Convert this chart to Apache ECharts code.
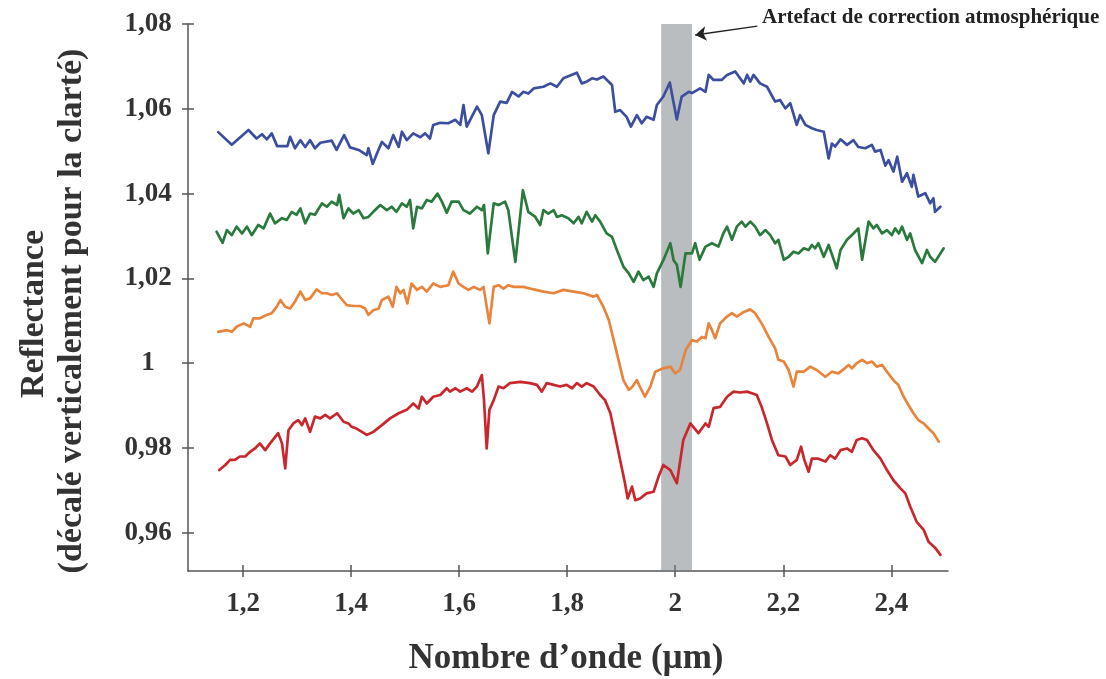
<!DOCTYPE html>
<html>
<head>
<meta charset="utf-8">
<script src="https://cdn.jsdelivr.net/npm/echarts@6/dist/echarts.min.js"></script>
<style>
html,body{margin:0;padding:0;background:#fff;}
#chart{width:1106px;height:679px;}
</style>
</head>
<body>
<div id="chart"></div>
<script>
// ---- Data ----
const xTicks = [1.2, 1.4, 1.6, 1.8, 2.0, 2.2, 2.4];
const yTicks = [0.96, 0.98, 1.00, 1.02, 1.04, 1.06, 1.08];

const blueWl = [1.154,1.179,1.21,1.225,1.235,1.244,1.253,1.263,1.282,1.287,1.296,1.306,1.315,1.324,1.333,1.343,1.364,1.373,1.387,1.398,1.414,1.429,1.432,1.44,1.448,1.457,1.469,1.478,1.488,1.494,1.503,1.515,1.528,1.537,1.546,1.552,1.565,1.58,1.593,1.602,1.608,1.614,1.633,1.642,1.654,1.664,1.676,1.688,1.698,1.71,1.719,1.728,1.738,1.756,1.769,1.781,1.793,1.818,1.827,1.836,1.846,1.855,1.867,1.883,1.889,1.898,1.91,1.918,1.929,1.938,1.947,1.96,1.966,1.978,1.99,1.996,2.003,2.012,2.025,2.031,2.046,2.056,2.062,2.071,2.086,2.096,2.111,2.127,2.133,2.139,2.145,2.157,2.17,2.185,2.194,2.204,2.213,2.225,2.231,2.241,2.253,2.262,2.275,2.284,2.29,2.296,2.306,2.318,2.33,2.339,2.352,2.364,2.37,2.38,2.389,2.395,2.404,2.411,2.42,2.429,2.438,2.441,2.45,2.463,2.472,2.478,2.481,2.491];
const blueR = [1.0545,1.0515,1.055,1.053,1.054,1.0528,1.0542,1.0512,1.0512,1.0534,1.0507,1.0526,1.051,1.0526,1.0507,1.052,1.0525,1.0503,1.0538,1.0509,1.0503,1.0491,1.0507,1.047,1.0495,1.0522,1.0507,1.0538,1.051,1.0546,1.0526,1.0542,1.0533,1.0542,1.053,1.0562,1.0567,1.0566,1.0574,1.0562,1.0609,1.0558,1.0605,1.0585,1.0495,1.0585,1.0617,1.0614,1.064,1.0629,1.064,1.0636,1.0648,1.0652,1.066,1.0652,1.0672,1.0685,1.066,1.0664,1.0672,1.0669,1.0676,1.0656,1.0593,1.0597,1.0581,1.0558,1.0585,1.0566,1.0581,1.0574,1.0609,1.0629,1.0662,1.0621,1.0575,1.0629,1.064,1.0637,1.0648,1.064,1.068,1.0668,1.0668,1.068,1.0688,1.066,1.068,1.0664,1.068,1.066,1.0652,1.0617,1.0621,1.0601,1.0613,1.0562,1.0585,1.0562,1.0554,1.055,1.0546,1.0483,1.0518,1.0511,1.0528,1.0515,1.0526,1.051,1.0507,1.0515,1.0499,1.0503,1.0466,1.0479,1.0452,1.0487,1.0428,1.0448,1.0416,1.0444,1.0393,1.0401,1.0377,1.0389,1.0357,1.0369];

const greenWl = [1.151,1.162,1.17,1.179,1.188,1.198,1.207,1.216,1.228,1.238,1.25,1.259,1.272,1.281,1.29,1.299,1.306,1.315,1.324,1.333,1.346,1.355,1.364,1.374,1.378,1.386,1.395,1.404,1.414,1.423,1.432,1.441,1.454,1.466,1.475,1.484,1.494,1.503,1.509,1.515,1.522,1.531,1.54,1.549,1.56,1.568,1.577,1.586,1.599,1.608,1.62,1.633,1.642,1.646,1.653,1.664,1.673,1.685,1.691,1.704,1.718,1.728,1.741,1.75,1.756,1.765,1.775,1.781,1.79,1.802,1.812,1.821,1.827,1.836,1.846,1.852,1.861,1.873,1.883,1.892,1.904,1.914,1.923,1.932,1.941,1.951,1.96,1.966,1.978,1.991,1.997,2.003,2.01,2.019,2.031,2.037,2.045,2.056,2.068,2.08,2.089,2.096,2.105,2.114,2.123,2.13,2.139,2.148,2.157,2.167,2.176,2.185,2.191,2.201,2.21,2.219,2.228,2.238,2.247,2.253,2.259,2.265,2.275,2.284,2.299,2.306,2.318,2.33,2.339,2.346,2.358,2.367,2.373,2.383,2.392,2.401,2.407,2.414,2.42,2.429,2.435,2.444,2.457,2.466,2.472,2.481,2.497];
const greenR = [1.031,1.0284,1.0314,1.0302,1.0322,1.0306,1.0322,1.0302,1.0326,1.0318,1.0353,1.033,1.0342,1.0338,1.0357,1.035,1.0365,1.033,1.0353,1.035,1.0377,1.0369,1.0381,1.0373,1.0397,1.0342,1.0365,1.0353,1.0361,1.0342,1.0345,1.0357,1.0373,1.0361,1.0369,1.0357,1.0377,1.0369,1.0385,1.0318,1.0369,1.0365,1.0385,1.0381,1.04,1.0381,1.0355,1.0381,1.0381,1.0361,1.0353,1.0369,1.0361,1.0373,1.0259,1.0377,1.0373,1.0381,1.0361,1.0239,1.0408,1.0357,1.0345,1.0326,1.0361,1.0353,1.0361,1.0345,1.0349,1.0342,1.033,1.0345,1.033,1.0357,1.0334,1.0349,1.0334,1.0306,1.0298,1.0267,1.0228,1.0212,1.0192,1.0216,1.0196,1.0204,1.018,1.0212,1.0243,1.0283,1.0243,1.0232,1.018,1.0259,1.0259,1.0283,1.0244,1.0275,1.0283,1.0275,1.0306,1.0322,1.0291,1.0322,1.0334,1.0322,1.0334,1.0322,1.0302,1.0314,1.0302,1.0283,1.0291,1.0244,1.0251,1.0263,1.0259,1.0271,1.0267,1.0279,1.0271,1.0283,1.0251,1.0279,1.0224,1.0267,1.0291,1.0306,1.0318,1.0244,1.0334,1.0318,1.0326,1.0306,1.0314,1.0302,1.0318,1.0306,1.0322,1.0291,1.0306,1.0267,1.0236,1.0267,1.0251,1.0239,1.0271];

const orangeWl = [1.154,1.17,1.179,1.188,1.201,1.213,1.219,1.231,1.244,1.253,1.262,1.269,1.278,1.287,1.296,1.306,1.315,1.324,1.336,1.346,1.355,1.364,1.374,1.38,1.392,1.404,1.417,1.426,1.432,1.441,1.451,1.457,1.469,1.477,1.484,1.491,1.497,1.504,1.512,1.522,1.531,1.54,1.552,1.565,1.58,1.589,1.599,1.608,1.617,1.627,1.639,1.645,1.656,1.664,1.673,1.682,1.691,1.701,1.719,1.738,1.756,1.775,1.793,1.812,1.83,1.849,1.855,1.867,1.877,1.886,1.895,1.904,1.914,1.921,1.929,1.936,1.944,1.954,1.963,1.978,1.991,2.0,2.009,2.019,2.031,2.04,2.049,2.056,2.062,2.068,2.074,2.083,2.096,2.105,2.114,2.127,2.139,2.148,2.16,2.173,2.185,2.191,2.201,2.21,2.219,2.225,2.238,2.25,2.262,2.278,2.29,2.302,2.314,2.321,2.327,2.336,2.346,2.355,2.364,2.373,2.383,2.392,2.404,2.413,2.423,2.432,2.441,2.45,2.46,2.469,2.478,2.488];
const orangeR = [1.0074,1.0078,1.0074,1.0086,1.0094,1.0086,1.0106,1.0106,1.0114,1.0118,1.0133,1.0149,1.0133,1.0129,1.0145,1.0169,1.0149,1.0153,1.0174,1.0165,1.0165,1.0161,1.0165,1.0155,1.0137,1.0135,1.0135,1.0129,1.0114,1.0125,1.0129,1.0149,1.0157,1.0133,1.018,1.0165,1.0173,1.0141,1.0188,1.0173,1.018,1.0169,1.0188,1.018,1.0184,1.0216,1.0188,1.018,1.0173,1.018,1.0173,1.018,1.0094,1.018,1.0184,1.0176,1.0184,1.018,1.018,1.0174,1.0169,1.0165,1.0173,1.0169,1.0165,1.0157,1.0161,1.0133,1.0102,1.0055,1.0008,0.996,0.9937,0.9945,0.996,0.9941,0.9921,0.9945,0.998,0.9988,0.9992,0.9976,0.9984,1.003,1.0055,1.0051,1.0062,1.0059,1.0094,1.0078,1.0059,1.0094,1.011,1.0118,1.011,1.0121,1.0127,1.0118,1.0094,1.0062,1.0035,1.0008,1.0004,0.9984,0.9945,0.998,0.998,0.9992,0.9984,0.9968,0.998,0.9976,0.9988,0.9996,0.9988,1.0,1.0008,1.0,1.0004,0.9992,0.9996,0.998,0.996,0.9949,0.9921,0.9901,0.9882,0.9866,0.9858,0.9846,0.9835,0.9815];

const redWl = [1.156,1.167,1.176,1.185,1.194,1.204,1.213,1.222,1.231,1.241,1.25,1.265,1.272,1.278,1.284,1.293,1.302,1.309,1.315,1.324,1.333,1.343,1.352,1.361,1.374,1.386,1.395,1.401,1.41,1.42,1.429,1.441,1.457,1.472,1.488,1.503,1.515,1.525,1.531,1.54,1.552,1.565,1.577,1.583,1.593,1.602,1.614,1.624,1.633,1.642,1.646,1.651,1.656,1.664,1.673,1.682,1.694,1.713,1.731,1.744,1.753,1.762,1.775,1.787,1.799,1.809,1.818,1.827,1.836,1.849,1.861,1.87,1.88,1.889,1.898,1.907,1.912,1.92,1.926,1.935,1.947,1.96,1.969,1.978,1.991,2.003,2.015,2.028,2.043,2.056,2.062,2.071,2.083,2.096,2.108,2.12,2.133,2.142,2.151,2.16,2.17,2.179,2.191,2.204,2.213,2.225,2.233,2.239,2.247,2.253,2.265,2.278,2.287,2.296,2.306,2.318,2.327,2.336,2.346,2.355,2.367,2.38,2.392,2.404,2.417,2.426,2.435,2.447,2.46,2.469,2.481,2.491];
const redR = [0.9748,0.976,0.9772,0.9772,0.978,0.978,0.9791,0.9799,0.9811,0.9795,0.9811,0.9835,0.9811,0.9752,0.9842,0.9858,0.9866,0.9854,0.987,0.9838,0.9874,0.987,0.9878,0.987,0.9882,0.9862,0.9858,0.985,0.9846,0.9838,0.9831,0.9838,0.9854,0.987,0.9882,0.989,0.9905,0.9893,0.9921,0.9905,0.9921,0.9925,0.9941,0.9933,0.9941,0.9933,0.9941,0.9933,0.9945,0.9972,0.9913,0.9799,0.989,0.9913,0.9945,0.9941,0.9953,0.9956,0.9953,0.9949,0.9933,0.9953,0.9949,0.9945,0.9949,0.9941,0.9953,0.9945,0.9953,0.9945,0.9925,0.9913,0.9882,0.9827,0.9772,0.9717,0.9681,0.9709,0.9677,0.9681,0.9693,0.9697,0.9732,0.976,0.9748,0.9717,0.9819,0.9858,0.9835,0.9858,0.985,0.9894,0.9897,0.9921,0.9933,0.9931,0.9933,0.9929,0.9925,0.9897,0.9858,0.9819,0.9783,0.978,0.976,0.9772,0.9803,0.9772,0.9744,0.9775,0.9775,0.9768,0.9783,0.9775,0.9795,0.9799,0.9791,0.9819,0.9823,0.9819,0.9795,0.9775,0.9748,0.9724,0.9705,0.9693,0.9662,0.9626,0.9607,0.9579,0.9565,0.9548];

// Shaded band (atmospheric correction artefact) and annotation arrow, in data units
const bandRange = [1.974, 2.031];
const arrowFrom = [2.152, 1.0795];
const arrowTo = [2.037, 1.0774];
const annotationText = 'Artefact de correction atmosphérique';
const xTitle = 'Nombre d’onde (µm)';
const yTitle1 = 'Reflectance';
const yTitle2 = '(décalé verticalement pour la clarté)';

// ---- Chart ----
const zip = (a, b) => a.map((v, i) => [v, b[i]]);
const fmt = v => String(+(+v).toFixed(2)).replace('.', ',');
const SERIF = '"Liberation Serif", "DejaVu Serif", serif';
const axisColor = '#555';
const X_MIN = 1.098, X_MAX = 2.505, Y_MIN = 0.951, Y_MAX = 1.08;

const chart = echarts.init(document.getElementById('chart'));

function lineSeries(name, wl, r, color) {
  return {
    name, type: 'line', data: zip(wl, r), showSymbol: false, symbol: 'none',
    lineStyle: { color, width: 2.7, join: 'round', cap: 'round' }, itemStyle: { color },
    z: 2, silent: true
  };
}

chart.setOption({
  animation: false,
  backgroundColor: '#fff',
  grid: { left: 188, right: 158, top: 24, bottom: 108 },
  xAxis: [
    {
      type: 'value', min: X_MIN, max: X_MAX,
      axisLine: { lineStyle: { color: axisColor, width: 1.5 } },
      axisTick: { show: true, length: 6, customValues: xTicks, lineStyle: { color: axisColor, width: 1.5 } },
      axisLabel: { customValues: xTicks, formatter: fmt, margin: 20, color: '#333',
        fontFamily: SERIF, fontWeight: 'bold', fontSize: 27 },
      splitLine: { show: false }
    },
    {
      type: 'value', min: X_MIN, max: X_MAX, position: 'bottom',
      axisLine: { show: false },
      axisTick: { show: true, inside: true, length: 6, customValues: xTicks, lineStyle: { color: axisColor, width: 1.5 } },
      axisLabel: { show: false }, splitLine: { show: false }
    }
  ],
  yAxis: [
    {
      type: 'value', min: Y_MIN, max: Y_MAX,
      axisLine: { show: true, lineStyle: { color: axisColor, width: 1.5 } },
      axisTick: { show: true, length: 6, customValues: yTicks, lineStyle: { color: axisColor, width: 1.5 } },
      axisLabel: { customValues: yTicks, formatter: fmt, margin: 40, align: 'center', color: '#333',
        fontFamily: SERIF, fontWeight: 'bold', fontSize: 27 },
      splitLine: { show: false }
    },
    {
      type: 'value', min: Y_MIN, max: Y_MAX, position: 'left',
      axisLine: { show: false },
      axisTick: { show: true, inside: true, length: 6, customValues: yTicks, lineStyle: { color: axisColor, width: 1.5 } },
      axisLabel: { show: false }, splitLine: { show: false }
    }
  ],
  series: [
    lineSeries('bleu', blueWl, blueR, '#3c4f9e'),
    lineSeries('vert', greenWl, greenR, '#2a7a3d'),
    lineSeries('orange', orangeWl, orangeR, '#e8843c'),
    lineSeries('rouge', redWl, redR, '#c8272e'),
    {
      name: 'artefact', type: 'line', data: [], z: 5, silent: true,
      markArea: {
        silent: true,
        itemStyle: { color: 'rgba(122,128,134,0.52)' },
        data: [[{ xAxis: bandRange[0] }, { xAxis: bandRange[1] }]]
      },
      markLine: {
        silent: true, symbol: ['none', 'arrow'], symbolSize: 11,
        lineStyle: { color: '#222', width: 1.4, type: 'solid' },
        label: { show: false },
        data: [[{ coord: arrowFrom }, { coord: arrowTo }]]
      }
    }
  ],
  graphic: [
    { type: 'text', left: 762, top: 7, silent: true,
      style: { text: annotationText, font: 'bold 21px ' + SERIF, fill: '#222' } },
    { type: 'text', x: 566, y: 659, silent: true,
      style: { text: xTitle, x: 0, y: 0, align: 'center', verticalAlign: 'middle', font: 'bold 35px ' + SERIF, fill: '#333' } },
    { type: 'text', x: 34, y: 314, rotation: Math.PI / 2, silent: true,
      style: { text: yTitle1, x: 0, y: 0, align: 'center', verticalAlign: 'middle', font: 'bold 34px ' + SERIF, fill: '#333' } },
    { type: 'text', x: 72, y: 311, rotation: Math.PI / 2, silent: true,
      style: { text: yTitle2, x: 0, y: 0, align: 'center', verticalAlign: 'middle', font: 'bold 34px ' + SERIF, fill: '#333' } }
  ]
});
</script>
</body>
</html>
